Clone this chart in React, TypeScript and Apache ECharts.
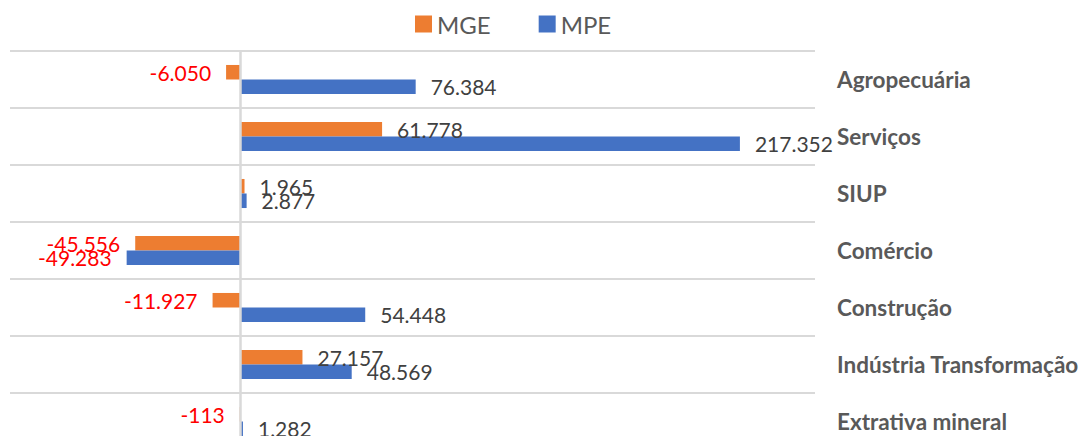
import React, { useEffect, useRef } from "react";
import * as echarts from "echarts";

const categories = [
  "Agropecuária",
  "Serviços",
  "SIUP",
  "Comércio",
  "Construção",
  "Indústria Transformação",
  "Extrativa mineral",
];
const seriesNames = ["MGE", "MPE"];
const mgeValues = [-6050, 61778, 1965, -45556, -11927, 27157, -113];
const mpeValues = [76384, 217352, 2877, -49283, 54448, 48569, 1282];
const colors = ["#ED7D31", "#4472C4"];

const fmt = (v: number) => {
  const s = Math.abs(Math.round(v))
    .toString()
    .replace(/\B(?=(\d{3})+(?!\d))/g, ".");
  return (v < 0 ? "-" : "") + s;
};

const makeData = (vals: number[]) =>
  vals.map((v) => ({
    value: v,
    label: {
      position: v < 0 ? "left" : "right",
      color: v < 0 ? "#FF0000" : "#404040",
    },
  }));

export default function App() {
  const ref = useRef<HTMLDivElement>(null);
  useEffect(() => {
    if (!ref.current) return;
    const chart = echarts.init(ref.current, undefined, { renderer: "svg" });
    const labelCommon = {
      show: true,
      distance: 15,
      fontFamily: "Lato",
      fontSize: 21,
      formatter: (p: any) => fmt(p.value),
    };
    chart.setOption({
      animation: false,
      backgroundColor: "#ffffff",
      legend: {
        data: seriesNames,
        left: 410,
        top: 7,
        icon: "rect",
        itemWidth: 17,
        itemHeight: 17,
        itemGap: 48,
        textStyle: {
          fontFamily: "Lato",
          fontSize: 24,
          color: "#595959",
          padding: [0, 0, 0, 0],
        },
      },
      grid: {
        left: 10,
        width: 805,
        top: 51,
        height: 399,
        containLabel: false,
        outerBoundsMode: "none",
      },
      xAxis: {
        type: "value",
        min: -100000,
        max: 250000,
        show: false,
        splitLine: { show: false },
      },
      yAxis: {
        type: "category",
        data: categories,
        inverse: true,
        position: "right",
        axisLine: { show: false },
        axisTick: { show: false },
        splitLine: { show: true, lineStyle: { color: "#d9d9d9", width: 2 } },
        axisLabel: {
          margin: 22,
          fontFamily: "Lato",
          fontWeight: "bold",
          fontSize: 22.5,
          color: "#595959",
          align: "left",
        },
      },
      series: [
        {
          name: seriesNames[0],
          type: "bar",
          data: makeData(mgeValues),
          itemStyle: { color: colors[0] },
          barGap: "0%",
          barCategoryGap: "49%",
          label: labelCommon,
          markLine: {
            silent: true,
            symbol: "none",
            label: { show: false },
            lineStyle: { color: "#d9d9d9", width: 2.5, type: "solid" },
            data: [{ xAxis: 0 }],
          },
        },
        {
          name: seriesNames[1],
          type: "bar",
          data: makeData(mpeValues),
          itemStyle: { color: colors[1] },
          barGap: "0%",
          barCategoryGap: "49%",
          label: labelCommon,
        },
      ],
    });
    return () => chart.dispose();
  }, []);
  return (
    <div
      ref={ref}
      style={{ position: "fixed", left: 0, top: 0, width: 1085, height: 436 }}
    />
  );
}
